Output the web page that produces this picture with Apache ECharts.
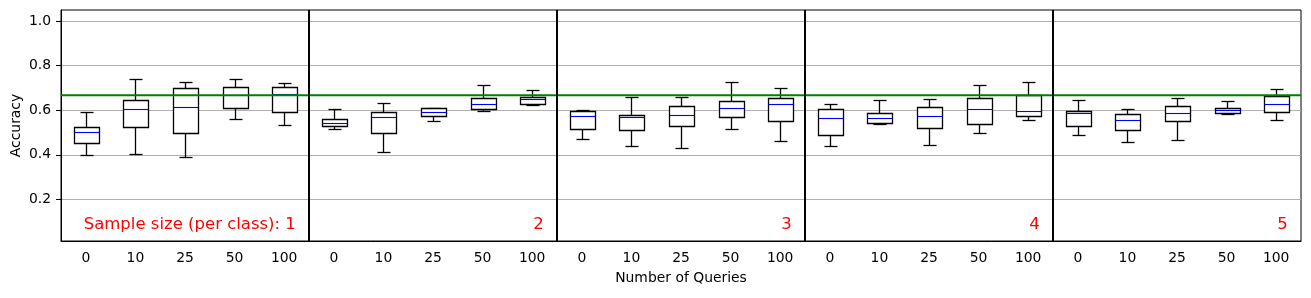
<!DOCTYPE html>
<html><head><meta charset="utf-8">
<script src="https://cdn.jsdelivr.net/npm/echarts@6/dist/echarts.min.js"></script>
<style>html,body{margin:0;padding:0;background:#fff}#c{width:1311px;height:298px}</style>
</head><body><div id="c"></div>
<script>
// ---- data ----
const queries = ['0', '10', '25', '50', '100'];
const sampleSizes = [1, 2, 3, 4, 5];
// each box: [lowWhisker, q1, median, q3, highWhisker], one per query count
const size1 = [[0.398,0.452,0.501,0.524,0.590],[0.402,0.525,0.604,0.646,0.739],[0.389,0.497,0.613,0.699,0.726],[0.560,0.609,0.667,0.706,0.739],[0.533,0.594,0.672,0.702,0.720]];
const size2 = [[0.515,0.528,0.542,0.560,0.606],[0.411,0.497,0.570,0.591,0.631],[0.551,0.573,0.590,0.609,0.610],[0.596,0.604,0.627,0.654,0.712],[0.622,0.627,0.649,0.658,0.690]];
const size3 = [[0.470,0.515,0.573,0.596,0.601],[0.440,0.510,0.569,0.578,0.658],[0.431,0.528,0.578,0.618,0.658],[0.516,0.569,0.610,0.642,0.727],[0.461,0.551,0.627,0.654,0.700]];
const size4 = [[0.438,0.488,0.564,0.604,0.627],[0.537,0.542,0.564,0.587,0.646],[0.443,0.519,0.573,0.613,0.649],[0.497,0.537,0.604,0.654,0.712],[0.555,0.573,0.597,0.669,0.727]];
const size5 = [[0.488,0.528,0.588,0.596,0.646],[0.459,0.510,0.555,0.582,0.606],[0.465,0.551,0.587,0.618,0.654],[0.582,0.587,0.600,0.610,0.642],[0.555,0.591,0.627,0.663,0.696]];
const yTicks = [0.2, 0.4, 0.6, 0.8, 1.0];
const refAccuracy = 0.667;

// ---- build ----
const groups = [size1, size2, size3, size4, size5];
const nQ = queries.length;
const categories = sampleSizes.flatMap(() => queries);
const boxData = groups.flatMap((g, gi) => g.map((b, qi) => [gi * nQ + qi].concat(b)));
const groupLabels = sampleSizes.map((s, i) => i === 0 ? 'Sample size (per class): ' + s : String(s));
const labelData = sampleSizes.map((s, i) => [i * nQ + nQ - 1, 0.087]);
const sepData = sampleSizes.slice(1).map((s, i) => [(i + 1) * nQ]);

const FONT = 'DejaVu Sans';
const r = v => Math.round(v) + 0.5;
const LW = 1.3;

function renderBox(params, api) {
  const x = api.value(0);
  const lo = api.coord([x, api.value(1)]);
  const q1 = api.coord([x, api.value(2)]);
  const med = api.coord([x, api.value(3)]);
  const q3 = api.coord([x, api.value(4)]);
  const hi = api.coord([x, api.value(5)]);
  const band = api.size([1, 0])[0];
  const cx = r(lo[0]);
  const bw = band * 0.5, cw = band * 0.25;
  const st = { stroke: '#000', lineWidth: LW, fill: null };
  return {
    type: 'group',
    children: [
      { type: 'line', shape: { x1: cx, y1: r(q3[1]), x2: cx, y2: r(hi[1]) }, style: st },
      { type: 'line', shape: { x1: cx, y1: r(q1[1]), x2: cx, y2: r(lo[1]) }, style: st },
      { type: 'line', shape: { x1: r(cx - cw / 2), y1: r(hi[1]), x2: r(cx + cw / 2), y2: r(hi[1]) }, style: st },
      { type: 'line', shape: { x1: r(cx - cw / 2), y1: r(lo[1]), x2: r(cx + cw / 2), y2: r(lo[1]) }, style: st },
      { type: 'rect', shape: { x: r(cx - bw / 2), y: r(q3[1]), width: Math.round(bw), height: Math.round(q1[1]) - Math.round(q3[1]) },
        style: { stroke: '#000', lineWidth: LW, fill: '#fff' } },
      { type: 'line', shape: { x1: r(cx - bw / 2), y1: r(med[1]), x2: r(cx + bw / 2), y2: r(med[1]) },
        style: { stroke: '#0000ff', lineWidth: 1.1 } }
    ]
  };
}

function renderLabel(params, api) {
  const x = api.value(0);
  const band = api.size([1, 0])[0];
  const p = api.coord([x, api.value(1)]);
  return {
    type: 'text',
    x: p[0] + band * 0.235, y: p[1],
    style: { text: groupLabels[params.dataIndex], fill: '#ff0000', font: '16.5px "' + FONT + '"', align: 'right', verticalAlign: 'middle' }
  };
}

function renderSep(params, api) {
  const i = api.value(0);
  const a = api.coord([i - 1, 0.5]);
  const b = api.coord([i, 0.5]);
  const cs = params.coordSys;
  const xx = Math.round((a[0] + b[0]) / 2);
  return { type: 'line', shape: { x1: xx, y1: cs.y, x2: xx, y2: cs.y + cs.height }, style: { stroke: '#000', lineWidth: 2 } };
}

function renderRef(params, api) {
  const cs = params.coordSys;
  const p = api.coord([0, api.value(1)]);
  return { type: 'line', shape: { x1: cs.x, y1: p[1], x2: cs.x + cs.width, y2: p[1] }, style: { stroke: '#008000', lineWidth: 1.8 } };
}

const chart = echarts.init(document.getElementById('c'), null, { renderer: 'canvas' });
chart.setOption({
  animation: false,
  backgroundColor: '#fff',
  grid: { left: 61, right: 10, top: 10, bottom: 57, show: true, borderColor: '#000', borderWidth: 1, outerBoundsMode: 'none' },
  xAxis: {
    type: 'category', data: categories, boundaryGap: true,
    name: 'Number of Queries', nameLocation: 'middle', nameGap: 30, nameMoveOverlap: false,
    nameTextStyle: { fontFamily: FONT, fontSize: 13.9, color: '#000' },
    axisLine: { lineStyle: { color: '#000', width: 1 } },
    axisTick: { alignWithLabel: true, length: 5, lineStyle: { color: '#000' } },
    axisLabel: { interval: 0, margin: 10, fontFamily: FONT, fontSize: 13.9, color: '#000' },
    splitLine: { show: false }
  },
  yAxis: {
    type: 'value', min: 0.014, max: 1.049,
    name: 'Accuracy', nameLocation: 'middle', nameGap: 38, nameMoveOverlap: false,
    nameTextStyle: { fontFamily: FONT, fontSize: 13.9, color: '#000' },
    axisLine: { show: true, lineStyle: { color: '#000', width: 1 } },
    axisTick: { show: true, length: 5, customValues: yTicks, lineStyle: { color: '#000' } },
    axisLabel: { customValues: yTicks, margin: 10, fontFamily: FONT, fontSize: 13.9, color: '#000', formatter: v => v.toFixed(1) },
    splitLine: { show: true, lineStyle: { color: '#b0b0b0', width: 1 } }
  },
  series: [
    { type: 'custom', renderItem: renderBox, data: boxData, z: 2, encode: { x: 0, y: [1, 2, 3, 4, 5] } },
    { type: 'custom', renderItem: renderRef, data: [[0, refAccuracy]], z: 3, encode: { x: 0, y: 1 } },
    { type: 'custom', renderItem: renderSep, data: sepData, z: 4, encode: { x: 0 } },
    { type: 'custom', renderItem: renderLabel, data: labelData, z: 5, encode: { x: 0, y: 1 } }
  ]
});
</script>
</body></html>
